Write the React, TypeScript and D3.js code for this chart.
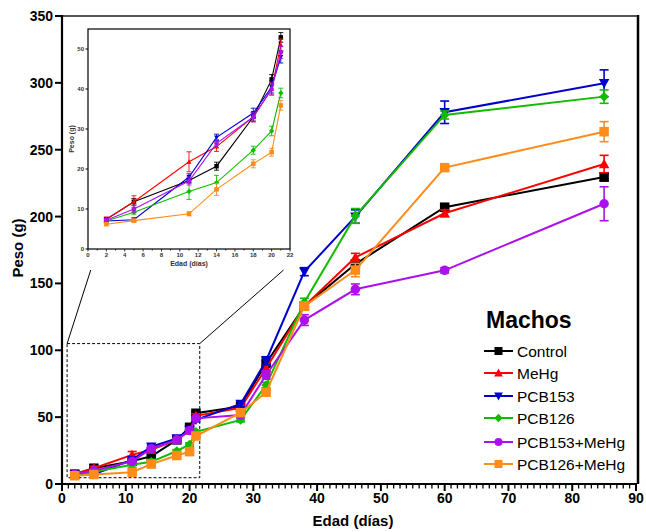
import React from "react";
import * as d3 from "d3";

const days = [2, 5, 11, 14, 18, 20, 21, 28, 32, 38, 46, 60, 85];
const seriesNames = ["Control", "MeHg", "PCB153", "PCB126", "PCB153+MeHg", "PCB126+MeHg"];
const controlVals = [7.4, 11.8, 17.1, 20.7, 33, 42.4, 52.9, 58, 90.3, 133, 164.5, 207, 229.6];
const mehgVals = [7.5, 11.8, 21.8, 25.6, 33, 40, 51, 57, 86.5, 133, 169.5, 202.5, 239.3];
const pcb153Vals = [7.0, 7.3, 18.0, 27.9, 34, 40.5, 48, 59.8, 92.2, 158.8, 200, 278, 299.7];
const pcb126Vals = [7.0, 9.2, 14.4, 16.6, 24.7, 29.5, 39, 47.9, 74, 135.9, 200.5, 276, 289.7];
const pcb153MeVals = [7.2, 10.0, 17.0, 26.4, 33, 40, 49.1, 51.6, 81.5, 122.6, 145.6, 159.8, 209.6];
const pcb126MeVals = [6.2, 7.1, 8.8, 14.9, 21.3, 24.2, 35.9, 53.3, 68.6, 133, 160, 236.6, 263.5];
const controlErr = [0.4, 0.8, 0.6, 1.0, 1.0, 1.2, 1.2, 2, 2, 3, 3, 2, 3];
const mehgErr = [0.5, 1.5, 2.5, 1.2, 1.2, 1.5, 1.5, 2, 2.5, 3, 3, 2.5, 6.5];
const pcb153Err = [0.4, 0.5, 0.8, 0.8, 1.2, 1.5, 1.5, 2, 3, 3, 5, 8.4, 10];
const pcb126Err = [0.4, 0.5, 2.0, 1.8, 1.0, 1.2, 1.2, 1.5, 2, 3, 5.5, 3, 5];
const pcb153MeErr = [0.4, 0.8, 1.0, 1.0, 1.2, 1.5, 1.5, 2, 3, 4, 4, 2, 12.7];
const pcb126MeErr = [0.3, 0.4, 0.5, 1.5, 1.0, 1.0, 1.2, 2, 2, 3, 5, 2, 7.5];
const xTicksMain = [0, 10, 20, 30, 40, 50, 60, 70, 80, 90];
const yTicksMain = [0, 50, 100, 150, 200, 250, 300, 350];
const xTicksInset = [0, 2, 4, 6, 8, 10, 12, 14, 16, 18, 20, 22];
const yTicksInset = [0, 10, 20, 30, 40, 50];
const zoomBox = { x0: 0.8, x1: 21.6, y0: 4.7, y1: 105 };
const connectEnds = { left: 0.3, right: 21.3, bottom: -5.25 };

const colors = ["#000000", "#ff0000", "#0000cc", "#11bb00", "#aa11ee", "#ff8c1a"];
const shapes = ["square", "triangle", "triangleDown", "diamond", "circle", "square"];
const values = [controlVals, mehgVals, pcb153Vals, pcb126Vals, pcb153MeVals, pcb126MeVals];
const errors = [controlErr, mehgErr, pcb153Err, pcb126Err, pcb153MeErr, pcb126MeErr];

const FONT = "'Liberation Sans', Arial, sans-serif";

function Marker({ shape, x, y, s, color }: { shape: string; x: number; y: number; s: number; color: string }) {
  if (shape === "square") return <rect x={x - s / 2} y={y - s / 2} width={s} height={s} fill={color} />;
  if (shape === "circle") return <circle cx={x} cy={y} r={s / 2} fill={color} />;
  if (shape === "diamond") {
    const h = s * 0.6;
    return <path d={`M${x},${y - h}L${x + h},${y}L${x},${y + h}L${x - h},${y}Z`} fill={color} />;
  }
  if (shape === "triangle") {
    const h = s * 0.55;
    return <path d={`M${x},${y - h}L${x + h},${y + h * 0.8}L${x - h},${y + h * 0.8}Z`} fill={color} />;
  }
  const h = s * 0.55;
  return <path d={`M${x},${y + h}L${x + h},${y - h * 0.8}L${x - h},${y - h * 0.8}Z`} fill={color} />;
}

function Series({ xs, ys, vals, errs, color, shape, ms, lw, cap, maxDay }: any) {
  const pts = days.map((d, i) => ({ d, v: vals[i], e: errs[i] })).filter((p) => p.d <= maxDay);
  const line = d3.line<any>().x((p) => xs(p.d)).y((p) => ys(p.v));
  return (
    <g>
      <path d={line(pts) || ""} fill="none" stroke={color} strokeWidth={lw} />
      {pts.map((p, i) => (
        <g key={i}>
          <line x1={xs(p.d)} x2={xs(p.d)} y1={ys(p.v - p.e)} y2={ys(p.v + p.e)} stroke={color} strokeWidth={lw * 0.8} />
          <line x1={xs(p.d) - cap} x2={xs(p.d) + cap} y1={ys(p.v + p.e)} y2={ys(p.v + p.e)} stroke={color} strokeWidth={lw * 0.8} />
          <line x1={xs(p.d) - cap} x2={xs(p.d) + cap} y1={ys(p.v - p.e)} y2={ys(p.v - p.e)} stroke={color} strokeWidth={lw * 0.8} />
          <Marker shape={shape} x={xs(p.d)} y={ys(p.v)} s={ms} color={color} />
        </g>
      ))}
    </g>
  );
}

export default function App() {
  const x = d3.scaleLinear().domain([0, 90]).range([62, 636]);
  const y = d3.scaleLinear().domain([0, 350]).range([484, 16]);
  const xi = d3.scaleLinear().domain([0, 22]).range([88, 290]);
  const yi = d3.scaleLinear().domain([0, 55]).range([249, 29]);
  const minor = d3.range(0, 91, 1);
  const insetMinor = d3.range(0, 23, 1);

  const legendY = [351, 373, 396, 418, 442, 464];

  return (
    <svg width={646} height={532} style={{ position: "absolute", left: 0, top: 0, background: "#fff" }} fontFamily={FONT}>
      <rect x={0} y={0} width={646} height={532} fill="#fff" />
      <line x1={62} x2={638} y1={16} y2={16} stroke="#555" strokeWidth={2} />
      <line x1={638} x2={638} y1={15} y2={484} stroke="#000" strokeWidth={2.5} />

      <rect x={x(zoomBox.x0)} y={y(zoomBox.y1)} width={x(zoomBox.x1) - x(zoomBox.x0)} height={y(zoomBox.y0) - y(zoomBox.y1)} fill="none" stroke="#000" strokeWidth={1} strokeDasharray="3,2" />
      <line x1={x(zoomBox.x0)} y1={y(zoomBox.y1)} x2={xi(connectEnds.left)} y2={yi(connectEnds.bottom)} stroke="#000" strokeWidth={1} />
      <line x1={x(zoomBox.x1)} y1={y(zoomBox.y1)} x2={xi(connectEnds.right)} y2={yi(connectEnds.bottom)} stroke="#000" strokeWidth={1} />

      <rect x={xi(0)} y={yi(55)} width={xi(22) - xi(0)} height={yi(0) - yi(55)} fill="#fff" stroke="#000" strokeWidth={1.2} />
      {yTicksInset.map((t) => (
        <g key={t}>
          <line x1={xi(0) - 2.5} x2={xi(0)} y1={yi(t)} y2={yi(t)} stroke="#000" strokeWidth={1} />
          <text x={xi(0) - 4} y={yi(t)} dy="0.35em" fontSize={6} fontWeight="bold" textAnchor="end" fill="#333">{t}</text>
        </g>
      ))}
      {insetMinor.map((t) => (
        <line key={t} x1={xi(t)} x2={xi(t)} y1={yi(0)} y2={yi(0) + (t % 2 === 0 ? 2.5 : 1.5)} stroke="#000" strokeWidth={0.8} />
      ))}
      {xTicksInset.map((t) => (
        <text key={t} x={xi(t)} y={yi(0) + 8} fontSize={6} fontWeight="bold" textAnchor="middle" fill="#333">{t}</text>
      ))}
      <text x={(xi(0) + xi(22)) / 2} y={yi(0) + 17} fontSize={7} fontWeight="bold" textAnchor="middle" fill="#333">Edad (días)</text>
      <text transform={`translate(${xi(0) - 14},${(yi(0) + yi(55)) / 2}) rotate(-90)`} fontSize={7} fontWeight="bold" textAnchor="middle" fill="#333">Peso (g)</text>
      {values.map((v, k) => (
        <Series key={k} xs={xi} ys={yi} vals={v} errs={errors[k]} color={colors[k]} shape={shapes[k]} ms={4.5} lw={1.1} cap={2.5} maxDay={21} />
      ))}

      {values.map((v, k) => (
        <Series key={k} xs={x} ys={y} vals={v} errs={errors[k]} color={colors[k]} shape={shapes[k]} ms={k === 3 ? 8 : 9.5} lw={2} cap={4.5} maxDay={100} />
      ))}

      <line x1={62} x2={62} y1={15} y2={485} stroke="#000" strokeWidth={2.2} />
      <line x1={61} x2={637} y1={484} y2={484} stroke="#000" strokeWidth={2.2} />
      {yTicksMain.map((t) => (
        <g key={t}>
          <line x1={55} x2={62} y1={y(t)} y2={y(t)} stroke="#000" strokeWidth={2} />
          <text x={53} y={y(t)} dy="0.36em" fontSize={14} fontWeight="bold" textAnchor="end">{t}</text>
        </g>
      ))}
      {minor.map((t) => (
        <line key={t} x1={x(t)} x2={x(t)} y1={484} y2={484 + (t % 10 === 0 ? 7 : 4.5)} stroke="#000" strokeWidth={t % 10 === 0 ? 2 : 1.3} />
      ))}
      {xTicksMain.map((t) => (
        <text key={t} x={x(t)} y={503} fontSize={14} fontWeight="bold" textAnchor="middle">{t}</text>
      ))}
      <text x={(x(0) + x(90)) / 2 + 4} y={526} fontSize={15} fontWeight="bold" textAnchor="middle">Edad (días)</text>
      <text transform={`translate(23,248) rotate(-90)`} fontSize={15} fontWeight="bold" textAnchor="middle">Peso (g)</text>

      <text x={486} y={328} fontSize={23} fontWeight="bold">Machos</text>
      {seriesNames.map((n, k) => (
        <g key={n}>
          <line x1={484} x2={513} y1={legendY[k]} y2={legendY[k]} stroke={colors[k]} strokeWidth={2} />
          <Marker shape={shapes[k]} x={498.5} y={legendY[k]} s={k === 3 ? 7 : 8} color={colors[k]} />
          <text x={517} y={legendY[k]} dy="0.36em" fontSize={15.5}>{n}</text>
        </g>
      ))}
    </svg>
  );
}
